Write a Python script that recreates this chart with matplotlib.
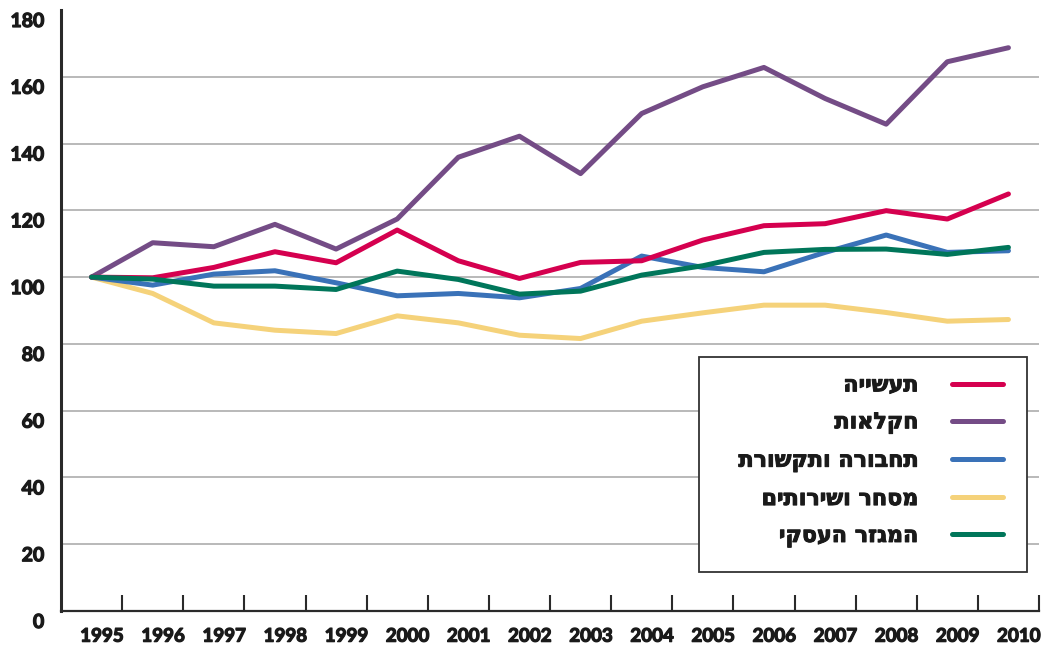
import matplotlib
matplotlib.use("Agg")
import matplotlib.pyplot as plt
from matplotlib.lines import Line2D
from matplotlib.patches import Rectangle
from matplotlib.transforms import ScaledTranslation
import matplotlib.patheffects as pe
import numpy as np

years = list(range(1995, 2011))
industry = [100, 99.8, 102.9, 107.6, 104.3, 114.1, 104.9, 99.6, 104.4, 104.9, 111.1, 115.4, 116.0, 119.9, 117.4, 124.9]
agriculture = [100, 110.3, 109.1, 115.8, 108.4, 117.4, 135.9, 142.2, 131.0, 149.0, 157.0, 162.8, 153.5, 145.8, 164.5, 168.7]
transport = [100, 97.6, 100.9, 101.9, 98.3, 94.4, 95.1, 93.8, 96.6, 106.3, 102.9, 101.6, 107.4, 112.6, 107.4, 107.9]
trade = [100, 95.1, 86.3, 84.1, 83.1, 88.4, 86.3, 82.6, 81.6, 86.8, 89.3, 91.6, 91.6, 89.4, 86.8, 87.3]
business = [100, 99.4, 97.3, 97.3, 96.3, 101.8, 99.3, 94.9, 95.8, 100.6, 103.4, 107.4, 108.3, 108.4, 106.8, 108.9]

labels = ["תעשייה", "חקלאות", "תחבורה ותקשורת", "מסחר ושירותים", "המגזר העסקי"]
colors = ["#d5004f", "#744c86", "#3a72b8", "#f5d27a", "#00765a"]
series = [industry, agriculture, transport, trade, business]
yticks = list(range(0, 181, 20))

text_color = "#1a1a1a"
heavy = [pe.withStroke(linewidth=0.9, foreground=text_color)]

fig = plt.figure(figsize=(10.48, 6.47), dpi=100)
ax = fig.add_axes([61 / 1048, 36 / 647, 978 / 1048, 601 / 647])

draw_order = [3, 1, 2, 0, 4]
for i in draw_order:
    ax.plot(years, series[i], color=colors[i], lw=3.6, solid_capstyle="round",
            solid_joinstyle="round", zorder=3 + draw_order.index(i))

ax.set_xlim(1994.5, 2010.5)
ax.set_ylim(0, 180)

for v in yticks[1:-1]:
    ax.axhline(v, color="#b3b3b3", lw=1.3, zorder=1)

for s in ["top", "right"]:
    ax.spines[s].set_visible(False)
ax.spines["left"].set_linewidth(2.2)
ax.spines["bottom"].set_linewidth(1.6)
ax.spines["left"].set_color("#2a2a2a")
ax.spines["bottom"].set_color("#2a2a2a")

ax.set_yticks(yticks)
ax.set_yticklabels([str(v) for v in yticks], fontfamily="Lato", fontweight="bold",
                   fontsize=14, color=text_color)
ax.tick_params(axis="y", length=0, pad=12)
off = ScaledTranslation(0, -10 / 100, fig.dpi_scale_trans)
for lab in ax.get_yticklabels():
    lab.set_transform(lab.get_transform() + off)
    lab.set_path_effects(heavy)

ax.set_xticks([y + 0.17 for y in years])
ax.set_xticklabels([str(y) for y in years], fontfamily="Lato", fontweight="bold",
                   fontsize=13.5, color=text_color)
for lab in ax.get_xticklabels():
    lab.set_path_effects(heavy)
ax.set_xticks([y + 0.5 for y in years], minor=True)
ax.tick_params(axis="x", which="major", length=0, pad=12)
ax.tick_params(axis="x", which="minor", direction="in", length=11.5, width=1.5, color="#2a2a2a")

# legend frame
ax.add_patch(Rectangle((0.6524, 0.0649), 0.3354, 0.3577, transform=ax.transAxes,
                       fill=True, facecolor="white", edgecolor="#333333", lw=1.3, zorder=10))
handles = [Line2D([0], [0], color=c, lw=3.6, solid_capstyle="round") for c in colors]
leg = ax.legend(handles, [l[::-1] for l in labels], loc="upper right",
                bbox_to_anchor=(0.9632, 0.392), frameon=False, markerfirst=False,
                borderpad=0, borderaxespad=0, handlelength=2.3, handletextpad=1.5,
                labelspacing=0.76, prop={"family": ["DejaVu Sans"],
                                         "weight": "bold", "size": 16})
leg.set_zorder(11)
for t in leg.get_texts():
    t.set_color(text_color)
    t.set_path_effects([pe.withStroke(linewidth=0.7, foreground=text_color)])

fig.savefig("out.png", dpi=100)
